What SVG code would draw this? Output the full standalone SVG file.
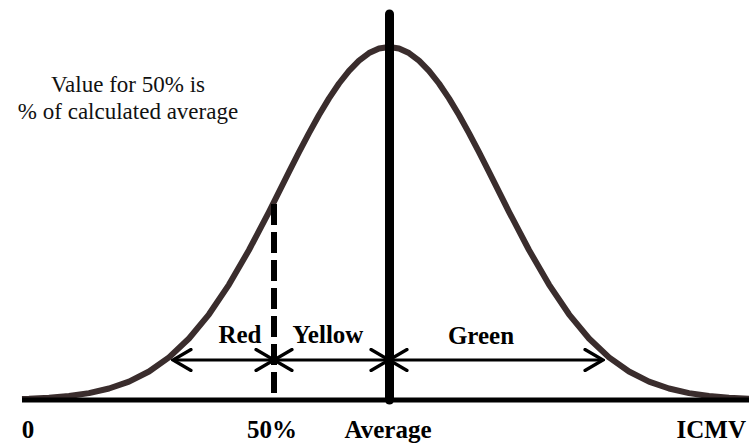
<svg xmlns="http://www.w3.org/2000/svg" width="749" height="447" viewBox="0 0 749 447">
  <style>
    .lbl { font-family: "Liberation Serif", "Times New Roman", serif; font-weight: bold; font-size: 25px; fill: #000; text-anchor: middle; }
    .note { font-family: "Liberation Serif", "Times New Roman", serif; font-size: 23px; fill: #111; text-anchor: middle; }
    .arrow { stroke: #000; stroke-width: 3; fill: none; marker-start: url(#head); marker-end: url(#head); }
  </style>
  <defs>
    <marker id="head" viewBox="0 0 22 24" refX="20" refY="12" markerWidth="22" markerHeight="24" markerUnits="userSpaceOnUse" orient="auto-start-reverse">
      <path d="M2,1.5 L20,12 L2,22.5" stroke="#000" stroke-width="3.2" fill="none" stroke-linecap="round" stroke-linejoin="miter"/>
    </marker>
  </defs>
  <rect width="749" height="447" fill="#fff"/>

  <g id="curve">
    <polyline fill="none" stroke="#3a2d2d" stroke-width="6" stroke-linejoin="round" stroke-linecap="butt"
      points="22,399 29,398.8 49,397.7 69,396 89,393.1 109,388.5 129,381.6 149,371.5 169,357.4 189,338.5 209,314.3 229,284.6 249,250 269,211.8 289,171.9 299,152.2 309,133.1 319,115 329,98.4 339,83.5 349,70.8 359,60.6 369,53.1 379,48.5 389,47 399,48.5 409,53.1 419,60.6 429,70.8 439,83.5 449,98.4 459,115 469,133.1 479,152.2 489,171.9 509,211.8 529,250 549,284.6 569,314.3 589,338.5 609,357.4 629,371.5 649,381.6 669,388.5 689,393.1 709,396 729,397.7 749,398.8"/>
  </g>

  <g id="axis">
    <line x1="22" y1="400" x2="749" y2="400" stroke="#000" stroke-width="5"/>
  </g>

  <g id="average-line">
    <line x1="389.5" y1="14" x2="389.5" y2="400" stroke="#000" stroke-width="9" stroke-linecap="round"/>
  </g>

  <g id="fifty-line">
    <line x1="274" y1="204" x2="274" y2="400" stroke="#000" stroke-width="6" stroke-dasharray="21 7"/>
  </g>

  <g id="connectors">
    <line class="arrow" x1="173" y1="360" x2="274" y2="360"/>
    <line class="arrow" x1="274" y1="360" x2="389" y2="360"/>
    <line class="arrow" x1="389" y1="360" x2="603" y2="360"/>
  </g>

  <g id="note">
    <text class="note" x="128" y="92">Value for 50% is</text>
    <text class="note" x="128" y="119">% of calculated average</text>
  </g>

  <g id="zone-labels">
    <text class="lbl" x="240" y="343">Red</text>
    <text class="lbl" x="328" y="343">Yellow</text>
    <text class="lbl" x="481" y="344">Green</text>
  </g>

  <g id="axis-labels">
    <text class="lbl" x="28" y="438">0</text>
    <text class="lbl" x="272" y="438">50%</text>
    <text class="lbl" x="388" y="438">Average</text>
    <text class="lbl" x="746" y="438" style="text-anchor:end">ICMV</text>
  </g>
</svg>
